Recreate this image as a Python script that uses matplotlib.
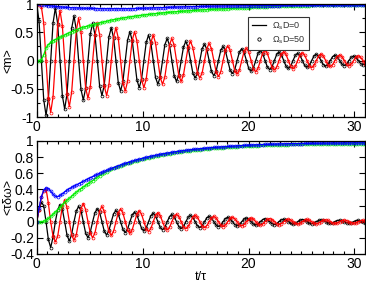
import numpy as np
import matplotlib
matplotlib.use("Agg")
import matplotlib.pyplot as plt
from matplotlib.lines import Line2D
from matplotlib.ticker import MultipleLocator

plt.rcParams['font.family'] = ['Liberation Sans', 'DejaVu Sans']
plt.rcParams['mathtext.fontset'] = 'custom'
plt.rcParams['mathtext.rm'] = 'Liberation Sans'

DT = 0.22  # sampling step in t/tau

# upper panel, <m>
black_top = [
    1.0, 0.70, 0.0, -0.69, -0.97, -0.68, 0.0, 0.66,
    0.93, 0.65, 0.0, -0.62, -0.86, -0.59, 0.0, 0.57,
    0.79, 0.54, 0.0, -0.51, -0.70, -0.49, 0.0, 0.47,
    0.66, 0.46, 0.0, -0.45, -0.62, -0.43, 0.0, 0.42,
    0.58, 0.40, 0.0, -0.39, -0.54, -0.37, 0.0, 0.36,
    0.51, 0.35, 0.0, -0.34, -0.48, -0.33, 0.0, 0.32,
    0.45, 0.31, 0.0, -0.30, -0.42, -0.29, 0.0, 0.28,
    0.39, 0.27, 0.0, -0.27, -0.37, -0.25, 0.0, 0.24,
    0.34, 0.23, 0.0, -0.22, -0.31, -0.22, 0.0, 0.21,
    0.29, 0.20, 0.0, -0.19, -0.27, -0.19, 0.0, 0.18,
    0.25, 0.17, 0.0, -0.17, -0.23, -0.16, 0.0, 0.15,
    0.21, 0.145, 0.0, -0.14, -0.19, -0.13, 0.0, 0.127,
    0.175, 0.12, 0.0, -0.116, -0.16, -0.111, 0.0, 0.107,
    0.15, 0.104, 0.0, -0.10, -0.14, -0.097, 0.0, 0.093,
    0.13, 0.09, 0.0, -0.086, -0.12, -0.083, 0.0, 0.079,
    0.11, 0.076, 0.0, -0.072, -0.10, -0.07, 0.0, 0.068,
    0.095, 0.066, 0.0, -0.064, -0.09, -0.062, 0.0, 0.058,
    0.08, 0.056, 0.0, -0.054, -0.075, -0.052,
]
red_top = [
    1.0, 0.99,
    0.95, 0.665, 0.0, -0.655, -0.92, -0.645, 0.0, 0.627,
    0.884, 0.618, 0.0, -0.589, -0.817, -0.56, 0.0, 0.54,
    0.75, 0.513, 0.0, -0.485, -0.665, -0.466, 0.0, 0.447,
    0.66, 0.46, 0.0, -0.45, -0.62, -0.43, 0.0, 0.42,
    0.58, 0.40, 0.0, -0.39, -0.54, -0.37, 0.0, 0.36,
    0.51, 0.35, 0.0, -0.34, -0.48, -0.33, 0.0, 0.32,
    0.45, 0.31, 0.0, -0.30, -0.42, -0.29, 0.0, 0.28,
    0.39, 0.27, 0.0, -0.27, -0.37, -0.25, 0.0, 0.24,
    0.34, 0.23, 0.0, -0.22, -0.31, -0.22, 0.0, 0.21,
    0.305, 0.21, 0.0, -0.2, -0.285, -0.2, 0.0, 0.19,
    0.26, 0.18, 0.0, -0.18, -0.24, -0.17, 0.0, 0.16,
    0.22, 0.152, 0.0, -0.147, -0.2, -0.137, 0.0, 0.133,
    0.184, 0.126, 0.0, -0.122, -0.168, -0.117, 0.0, 0.112,
    0.158, 0.109, 0.0, -0.105, -0.147, -0.102, 0.0, 0.098,
    0.137, 0.095, 0.0, -0.09, -0.126, -0.087, 0.0, 0.083,
    0.116, 0.08, 0.0, -0.076, -0.105, -0.074, 0.0, 0.071,
    0.1, 0.069, 0.0, -0.067, -0.095, -0.065, 0.0, 0.061,
    0.084, 0.059, 0.0, -0.057,
]
blue_top = [
    1.0, 0.995, 0.99, 0.985, 0.978, 0.972, 0.966, 0.961, 0.956, 0.952,
    0.948, 0.945, 0.942, 0.939, 0.936, 0.934, 0.932, 0.93, 0.928, 0.926, 0.925,
    0.924, 0.923, 0.922, 0.921, 0.92, 0.919, 0.918, 0.918, 0.917, 0.917, 0.916, 0.916,
    0.916, 0.916, 0.916, 0.916, 0.917, 0.917, 0.918, 0.918, 0.919, 0.92, 0.921, 0.922,
    0.923, 0.924, 0.926, 0.927, 0.929, 0.93,
    0.932, 0.933, 0.935, 0.936, 0.938, 0.939, 0.941, 0.942, 0.944, 0.945,
    0.946, 0.948, 0.949, 0.95, 0.951, 0.952, 0.953, 0.954, 0.955, 0.956,
    0.957, 0.958, 0.959, 0.96, 0.96, 0.961, 0.962, 0.962, 0.963, 0.964,
    0.964, 0.965, 0.965, 0.966, 0.966, 0.967, 0.967, 0.968,
    0.968, 0.969, 0.969, 0.97, 0.97, 0.97, 0.971, 0.971, 0.972, 0.972, 0.972, 0.973,
    0.973, 0.973, 0.973, 0.973, 0.974, 0.974, 0.974, 0.974, 0.975, 0.975,
    0.975, 0.975, 0.976, 0.976, 0.976, 0.976, 0.977, 0.977, 0.977, 0.977,
    0.977, 0.977, 0.977, 0.978, 0.978, 0.978, 0.978, 0.978, 0.978, 0.979,
    0.979, 0.979, 0.979, 0.979, 0.979, 0.98, 0.98, 0.98, 0.98, 0.98, 0.98,
]
green_top = [
    0.0, 0.0, 0.01, 0.1, 0.22, 0.28, 0.32, 0.35, 0.37, 0.39, 0.41, 0.43,
    0.45, 0.47, 0.49, 0.51, 0.53, 0.545, 0.56, 0.575, 0.59, 0.6, 0.61, 0.62,
    0.635, 0.645, 0.655, 0.665, 0.675, 0.685, 0.695, 0.705, 0.714,
    0.722, 0.73, 0.738, 0.745, 0.752, 0.759, 0.766, 0.772, 0.778, 0.784,
    0.79, 0.796, 0.801, 0.806, 0.811, 0.816, 0.821, 0.825, 0.83, 0.834,
    0.838, 0.842, 0.846, 0.85, 0.854, 0.857, 0.861, 0.864, 0.868, 0.871,
    0.874, 0.877, 0.88, 0.883, 0.886, 0.889, 0.891, 0.894, 0.896, 0.899,
    0.901, 0.904, 0.906, 0.908, 0.91, 0.912, 0.914, 0.916, 0.918, 0.92,
    0.922, 0.924, 0.926, 0.928, 0.93, 0.932, 0.934, 0.936, 0.938, 0.94,
    0.942, 0.944, 0.946, 0.948, 0.95, 0.952, 0.954, 0.956, 0.958, 0.96,
    0.962, 0.963, 0.965, 0.966, 0.967, 0.968,
    0.969, 0.97, 0.97, 0.971, 0.971, 0.972, 0.972, 0.973, 0.973, 0.974,
    0.974, 0.975, 0.975, 0.975, 0.976, 0.976, 0.976, 0.977, 0.977, 0.977,
    0.977, 0.978, 0.978, 0.978, 0.978, 0.979, 0.979, 0.979, 0.979, 0.98,
    0.98, 0.98, 0.98,
]

# lower panel, <tau delta omega>
black_bot = [
    0.0, 0.15, 0.24, 0.2, 0.0, -0.22, -0.32, -0.19,
    0.0, 0.15, 0.21, 0.155, 0.0, -0.166, -0.24, -0.155,
    0.0, 0.134, 0.19, 0.138, 0.0, -0.141, -0.2, -0.127,
    0.0, 0.113, 0.16, 0.115, 0.0, -0.117, -0.165, -0.106,
    0.0, 0.099, 0.14, 0.097, 0.0, -0.095, -0.135, -0.09,
    0.0, 0.085, 0.12, 0.083, 0.0, -0.081, -0.115, -0.078,
    0.0, 0.074, 0.105, 0.072, 0.0, -0.071, -0.1, -0.067,
    0.0, 0.064, 0.09, 0.062, 0.0, -0.06, -0.085, -0.057,
    0.0, 0.055, 0.078, 0.053, 0.0, -0.051, -0.072, -0.049,
    0.0, 0.047, 0.066, 0.045, 0.0, -0.042, -0.06, -0.04,
    0.0, 0.039, 0.055, 0.037, 0.0, -0.035, -0.05, -0.034,
    0.0, 0.033, 0.046, 0.031, 0.0, -0.03, -0.042, -0.028,
    0.0, 0.027, 0.038, 0.025, 0.0, -0.025, -0.035, -0.023,
    0.0, 0.023, 0.032, 0.022, 0.0, -0.021, -0.03, -0.02,
    0.0, 0.019, 0.027, 0.018, 0.0, -0.018, -0.025, -0.017,
    0.0, 0.016, 0.023, 0.016, 0.0, -0.015, -0.021, -0.014,
    0.0, 0.014, 0.02, 0.013, 0.0, -0.013, -0.018, -0.013,
    0.0, 0.012, 0.017, 0.012, 0.0, -0.011,
]
red_bot = [
    0.0, 0.15, 0.3, 0.38, 0.41, 0.23, 0.0, -0.18,
    -0.25, -0.18, 0.0, 0.19, 0.27, 0.177, 0.0, -0.163,
    -0.23, -0.16, 0.0, 0.16, 0.225, 0.15, 0.0, -0.141,
    -0.2, -0.138, 0.0, 0.134, 0.19, 0.127, 0.0, -0.12,
    -0.17, -0.117, 0.0, 0.113, 0.16, 0.107, 0.0, -0.103,
    -0.145, -0.099, 0.0, 0.095, 0.135, 0.092, 0.0, -0.086,
    -0.122, -0.083, 0.0, 0.08, 0.113, 0.076, 0.0, -0.072,
    -0.102, -0.069, 0.0, 0.066, 0.094, 0.064, 0.0, -0.061,
    -0.086, -0.059, 0.0, 0.057, 0.08, 0.054, 0.0, -0.052,
    -0.073, -0.049, 0.0, 0.047, 0.067, 0.045, 0.0, -0.043,
    -0.061, -0.041, 0.0, 0.04, 0.056, 0.037, 0.0, -0.036,
    -0.051, -0.035, 0.0, 0.033, 0.047, 0.032, 0.0, -0.03,
    -0.043, -0.029, 0.0, 0.028, 0.039, 0.026, 0.0, -0.025,
    -0.036, -0.024, 0.0, 0.023, 0.033, 0.022, 0.0, -0.021,
    -0.03, -0.021, 0.0, 0.02, 0.028, 0.019, 0.0, -0.018,
    -0.026, -0.018, 0.0, 0.017, 0.024, 0.017, 0.0, -0.016,
    -0.022, -0.016, 0.0, 0.015, 0.021, 0.015, 0.0, -0.014,
    -0.02, -0.014, 0.0, 0.013, 0.019, 0.013,
]
blue_bot = [
    0.0, 0.17, 0.31, 0.39, 0.42, 0.41, 0.38, 0.34, 0.315, 0.31, 0.325,
    0.345, 0.37, 0.39, 0.41, 0.425, 0.44, 0.455, 0.47, 0.485, 0.5, 0.515,
    0.53, 0.545, 0.56, 0.573, 0.586, 0.599, 0.612, 0.624, 0.636, 0.648, 0.66,
    0.671, 0.682, 0.693, 0.703, 0.713, 0.723, 0.732, 0.741, 0.75, 0.759,
    0.767, 0.775, 0.783, 0.79, 0.797, 0.804, 0.811, 0.817, 0.823, 0.829,
    0.835, 0.84, 0.845, 0.85, 0.855, 0.86, 0.865, 0.869, 0.873, 0.877,
    0.881, 0.885, 0.889, 0.892, 0.895, 0.898, 0.901, 0.904, 0.907, 0.91,
    0.913, 0.915, 0.918, 0.92, 0.922, 0.925, 0.927, 0.929, 0.931, 0.933,
    0.935, 0.937, 0.939, 0.941, 0.942, 0.944, 0.945, 0.947, 0.948, 0.95,
    0.951, 0.952, 0.953, 0.955, 0.956, 0.957, 0.958, 0.959, 0.96, 0.961,
    0.962, 0.963, 0.964, 0.965, 0.965, 0.966,
    0.967, 0.967, 0.968, 0.968, 0.969, 0.969, 0.97, 0.97, 0.971, 0.971,
    0.972, 0.972, 0.972, 0.973, 0.973, 0.973, 0.974, 0.974, 0.974, 0.975,
    0.975, 0.975, 0.975, 0.976, 0.976, 0.976, 0.976, 0.977, 0.977, 0.977,
    0.977, 0.978, 0.978,
]
green_bot = [
    0.0, 0.0, 0.0, 0.005, 0.02, 0.04, 0.065, 0.09, 0.12, 0.15, 0.18,
    0.21, 0.24, 0.265, 0.29, 0.315, 0.34, 0.365, 0.39, 0.41, 0.43, 0.45,
    0.47, 0.49, 0.51, 0.53, 0.55, 0.57, 0.59, 0.605, 0.62, 0.635, 0.65,
    0.661, 0.672, 0.683, 0.693, 0.703, 0.713, 0.722, 0.731, 0.74, 0.749,
    0.757, 0.765, 0.773, 0.78, 0.787, 0.794, 0.801, 0.807, 0.813, 0.819,
    0.825, 0.83, 0.835, 0.84, 0.845, 0.85, 0.855, 0.859, 0.863, 0.867,
    0.871, 0.875, 0.879, 0.882, 0.885, 0.888, 0.891, 0.894, 0.897, 0.9,
    0.903, 0.905, 0.908, 0.91, 0.912, 0.915, 0.917, 0.919, 0.921, 0.923,
    0.925, 0.927, 0.929, 0.931, 0.932, 0.934, 0.935, 0.937, 0.938, 0.94,
    0.941, 0.942, 0.943, 0.945, 0.946, 0.947, 0.948, 0.949, 0.95, 0.951,
    0.952, 0.953, 0.954, 0.955, 0.955, 0.956,
    0.957, 0.957, 0.958, 0.958, 0.959, 0.959, 0.96, 0.96, 0.961, 0.961,
    0.962, 0.962, 0.962, 0.963, 0.963, 0.963, 0.964, 0.964, 0.964, 0.965,
    0.965, 0.965, 0.965, 0.966, 0.966, 0.966, 0.966, 0.967, 0.967, 0.967,
    0.967, 0.968, 0.968,
]

legend_labels = ['Ω$_\\mathrm{s}$D=0', 'Ω$_\\mathrm{s}$D=50']


def draw(ax, vals, color):
    t = np.arange(len(vals)) * DT
    ax.plot(t, vals, '-', color=color, lw=0.9)
    ax.plot(t, vals, 'o', mfc='none', mec=color, ms=2.1, mew=0.5)


def style(ax):
    ax.set_xlim(0, 31)
    ax.xaxis.set_major_locator(MultipleLocator(10))
    ax.xaxis.set_minor_locator(MultipleLocator(1))
    ax.tick_params(which='both', direction='in', top=True, right=True,
                   width=0.8, labelsize=10, pad=2)
    ax.tick_params(which='major', length=4)
    ax.tick_params(which='minor', length=2)
    for s in ax.spines.values():
        s.set_linewidth(0.9)


fig = plt.figure(figsize=(3.66, 2.82), dpi=100)
ax1 = fig.add_axes([0.1003, 0.585, 0.897, 0.4008])
ax2 = fig.add_axes([0.1003, 0.0993, 0.897, 0.4007])

for vals, c in [(black_top, 'black'), (red_top, 'red'),
                (green_top, '#00ee00'), (blue_top, '#0000ff')]:
    draw(ax1, vals, c)
for vals, c in [(black_bot, 'black'), (red_bot, 'red'),
                (green_bot, '#00ee00'), (blue_bot, '#0000ff')]:
    draw(ax2, vals, c)

style(ax1)
ax1.set_ylim(-1, 1)
ax1.yaxis.set_minor_locator(MultipleLocator(0.25))
ax1.set_yticks([-1, -0.5, 0, 0.5, 1], ['-1', '-0.5', '0', '0.5', '1'])
ax1.set_ylabel('<m>', fontsize=9)
ax1.yaxis.set_label_coords(-0.068, 0.5)

style(ax2)
ax2.set_ylim(-0.4, 1)
ax2.set_yticks([-0.4, -0.2, 0, 0.2, 0.4, 0.6, 0.8, 1],
               ['-0.4', '-0.2', '0', '0.2', '0.4', '0.6', '0.8', '1'])
ax2.yaxis.set_minor_locator(MultipleLocator(0.2))
ax2.set_ylabel('<τδω>', fontsize=9)
ax2.yaxis.set_label_coords(-0.068, 0.5)
ax2.set_xlabel('t/τ', fontsize=9, labelpad=0)

handles = [Line2D([], [], color='black', lw=0.9),
           Line2D([], [], ls='none', marker='o', mfc='none', mec='black',
                  ms=2.4, mew=0.6)]
leg = ax1.legend(handles, legend_labels, loc='upper left',
                 bbox_to_anchor=(0.644, 0.888), fontsize=6.5,
                 fancybox=False, framealpha=1, edgecolor='#333333',
                 handlelength=1.6, handletextpad=0.6, borderpad=0.4,
                 labelspacing=0.3, borderaxespad=0)
leg.get_frame().set_linewidth(0.8)
for txt in leg.get_texts():
    txt.set_color('#333333')

fig.savefig('out.png', dpi=100)
